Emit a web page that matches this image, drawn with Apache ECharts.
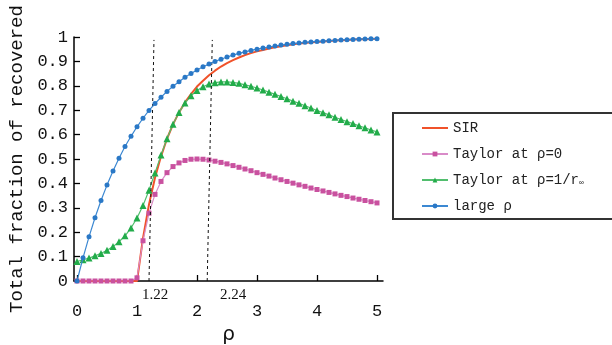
<!DOCTYPE html>
<html>
<head>
<meta charset="utf-8">
<script src="https://cdn.jsdelivr.net/npm/echarts@6/dist/echarts.min.js"></script>
<style>html,body{margin:0;padding:0;background:#fff;}#main{width:612px;height:345px;}</style>
</head>
<body>
<div id="main"></div>
<script>
// ---- data ----
const rho = [0,0.1,0.2,0.3,0.4,0.5,0.6,0.7,0.8,0.9,1,1.1,1.2,1.3,1.4,1.5,1.6,1.7,1.8,1.9,2,2.1,2.2,2.3,2.4,2.5,2.6,2.7,2.8,2.9,3,3.1,3.2,3.3,3.4,3.5,3.6,3.7,3.8,3.9,4,4.1,4.2,4.3,4.4,4.5,4.6,4.7,4.8,4.9,5];
const sirValues = [0,0,0,0,0,0,0,0,0,0,0,0.176,0.314,0.423,0.511,0.583,0.642,0.691,0.732,0.766,0.797,0.821,0.843,0.862,0.879,0.893,0.905,0.916,0.926,0.934,0.941,0.947,0.953,0.958,0.962,0.966,0.970,0.973,0.975,0.978,0.980,0.982,0.984,0.986,0.987,0.988,0.990,0.991,0.991,0.992,0.993];
const taylor0Values = [0,0,0,0,0,0,0,0,0,0,0.013,0.165,0.278,0.355,0.408,0.444,0.469,0.484,0.494,0.499,0.5,0.499,0.496,0.491,0.486,0.48,0.473,0.466,0.459,0.452,0.444,0.437,0.430,0.422,0.415,0.408,0.401,0.394,0.388,0.381,0.375,0.369,0.363,0.357,0.351,0.346,0.340,0.335,0.330,0.325,0.32];
const taylorRValues = [0.080,0.087,0.094,0.103,0.113,0.126,0.141,0.161,0.185,0.217,0.258,0.309,0.372,0.443,0.516,0.583,0.642,0.691,0.729,0.759,0.781,0.796,0.807,0.813,0.816,0.816,0.814,0.810,0.804,0.798,0.791,0.783,0.774,0.765,0.756,0.747,0.737,0.728,0.718,0.709,0.699,0.690,0.681,0.671,0.662,0.653,0.645,0.636,0.628,0.619,0.611];
const largeValues = [0,0.095,0.181,0.259,0.330,0.393,0.451,0.503,0.551,0.593,0.632,0.667,0.699,0.727,0.753,0.777,0.798,0.817,0.835,0.850,0.865,0.878,0.889,0.900,0.909,0.918,0.926,0.933,0.939,0.945,0.950,0.955,0.959,0.963,0.967,0.970,0.973,0.975,0.978,0.980,0.982,0.983,0.985,0.986,0.988,0.989,0.990,0.991,0.992,0.993,0.993];
const seriesNames = ['SIR', 'Taylor at ρ=0', 'Taylor at ρ=1/r∞', 'large ρ'];
const xTicks = [0,1,2,3,4,5];
const yTicks = [0,0.1,0.2,0.3,0.4,0.5,0.6,0.7,0.8,0.9,1];
const guideLabels = ['1.22', '2.24'];
const guideBottoms = [[1.2, 0], [2.17, 0]];
const guideTops = [[1.283, 0.988], [2.255, 0.988]];

// ---- chart ----
const zip = vals => rho.map((r, i) => [r, vals[i]]);
const chart = echarts.init(document.getElementById('main'), null, {renderer: 'canvas'});
const mono = 'Liberation Mono';
const option = {
  animation: false,
  backgroundColor: '#fff',
  grid: {left: 74, right: 229, top: 37, bottom: 64, containLabel: false, outerBoundsMode: 'none'},
  legend: {
    data: seriesNames.map((n, i) => i === 0 ? {name: n, itemStyle: {opacity: 0}} : {name: n}),
    orient: 'vertical',
    left: 421,
    top: 121,
    padding: 0,
    itemWidth: 26,
    itemHeight: 6,
    itemGap: 12,
    z: 10,
    formatter: n => n.replace('∞', '{sub|∞}'),
    textStyle: {fontFamily: mono, fontSize: 14, color: '#222',
      rich: {sub: {fontFamily: mono, fontSize: 8, color: '#222', verticalAlign: 'bottom', padding: [5, 0, 0, 0]}}}
  },
  xAxis: {
    type: 'value', min: -0.05, max: 5.1,
    name: 'ρ', nameLocation: 'middle', nameGap: 43,
    nameTextStyle: {fontFamily: 'DejaVu Sans', fontSize: 20, color: '#111'},
    axisLine: {onZero: false, lineStyle: {color: '#000', width: 1.5}},
    axisTick: {inside: true, length: 6, customValues: xTicks, lineStyle: {color: '#000', width: 1.3}},
    axisLabel: {customValues: xTicks, margin: 22, fontFamily: mono, fontSize: 17, color: '#111'},
    splitLine: {show: false}
  },
  yAxis: {
    type: 'value', min: 0, max: 1, interval: 0.1,
    name: 'Total fraction of recovered', nameLocation: 'middle', nameGap: 46,
    nameTextStyle: {fontFamily: mono, fontSize: 19, color: '#111'},
    axisLine: {show: true, onZero: false, lineStyle: {color: '#000', width: 1.5}},
    axisTick: {show: true, inside: true, length: 6, customValues: yTicks, lineStyle: {color: '#000', width: 1.3}},
    axisLabel: {customValues: yTicks, margin: 6, fontFamily: mono, fontSize: 17, color: '#111'},
    splitLine: {show: false}
  },
  graphic: [{
    id: 'legendBox', type: 'rect', left: 392, top: 112, z: 1,
    shape: {width: 240, height: 106},
    style: {fill: '#fff', stroke: '#333', lineWidth: 2}
  }],
  series: [
    {
      name: seriesNames[0], type: 'line', data: zip(sirValues), symbol: 'none',
      lineStyle: {color: '#F0522A', width: 2}, itemStyle: {color: '#F0522A'}, z: 2,
      markLine: {
        silent: true, symbol: ['none', 'none'], label: {show: false},
        lineStyle: {color: '#111', width: 1, type: [3, 3]},
        data: guideBottoms.map((b, i) => [{coord: b}, {coord: guideTops[i]}])
      }
    },
    {
      name: seriesNames[1], type: 'line', data: zip(taylor0Values), symbol: 'rect', symbolSize: 5,
      lineStyle: {color: '#D98BC8', width: 1.2}, itemStyle: {color: '#C9519F'}, z: 3
    },
    {
      name: seriesNames[2], type: 'line', data: zip(taylorRValues), symbol: 'triangle', symbolSize: 7,
      lineStyle: {color: '#52BE6E', width: 1.2}, itemStyle: {color: '#22AC4A'}, z: 4
    },
    {
      name: seriesNames[3], type: 'line', data: zip(largeValues), symbol: 'circle', symbolSize: 5,
      lineStyle: {color: '#3C88D2', width: 1.2}, itemStyle: {color: '#2A78C6'}, z: 5
    }
  ]
};
chart.setOption(option);

// annotation texts below the dashed guide lines
const labelOffsets = [[6, 14], [26, 14]];
const texts = guideLabels.map((t, i) => {
  const p = chart.convertToPixel({xAxisIndex: 0, yAxisIndex: 0}, guideBottoms[i]);
  return {
    id: 'guide' + i, type: 'text', x: p[0] + labelOffsets[i][0], y: p[1] + labelOffsets[i][1], z: 10,
    style: {text: t, font: '15px "Liberation Serif"', fill: '#111', align: 'center', verticalAlign: 'middle',
      textAlign: 'center', textVerticalAlign: 'middle'}
  };
});
chart.setOption({graphic: texts});
</script>
</body>
</html>
